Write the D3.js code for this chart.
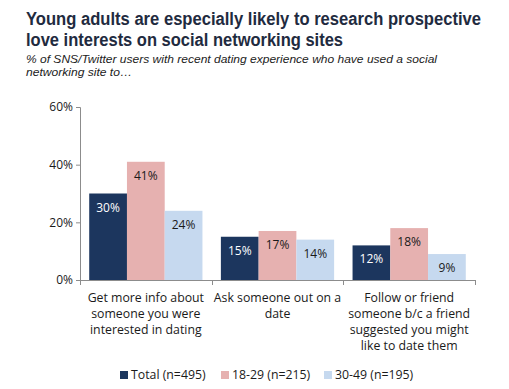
<!DOCTYPE html>
<html><head><meta charset="utf-8">
<script src="https://cdn.jsdelivr.net/npm/d3@7"></script>
<style>body{margin:0;background:#fff}svg{display:block}</style>
</head><body>
<svg id="c" width="509" height="389"></svg>
<script>
const categories = [
  ["Get more info about","someone you were","interested in dating"],
  ["Ask someone out on a","date"],
  ["Follow or friend","someone b/c a friend","suggested you might","like to date them"]
];
const seriesNames = ["Total (n=495)","18-29 (n=215)","30-49 (n=195)"];
const totalVals = [30,15,12];
const young = [41,17,18];
const middle = [24,14,9];
const yTicks = [0,20,40,60];
const colors = ["#1c365e","#e6b1b0","#c6d9ef"];
const labelColors = ["#ffffff","#1a1a1a","#1a1a1a"];

const svg = d3.select("#c");
const font = "'Open Sans', 'Noto Sans', sans-serif";
const series = [totalVals, young, middle];

// title
const title = svg.append("g").attr("fill","#1f2b40").attr("font-family","'Liberation Sans', Arial, sans-serif").attr("font-weight","bold").attr("font-size",17.5);
title.append("text").attr("x",26).attr("y",25).attr("textLength",455).attr("lengthAdjust","spacingAndGlyphs").text("Young adults are especially likely to research prospective");
title.append("text").attr("x",26).attr("y",46).attr("textLength",317).attr("lengthAdjust","spacingAndGlyphs").text("love interests on social networking sites");
const sub = svg.append("g").attr("fill","#222").attr("font-family","'Liberation Sans', Arial, sans-serif").attr("font-style","italic").attr("font-size",11);
sub.append("text").attr("x",26).attr("y",63).attr("textLength",411).attr("lengthAdjust","spacingAndGlyphs").text("% of SNS/Twitter users with recent dating experience who have used a social");
sub.append("text").attr("x",26).attr("y",75.5).attr("textLength",106).attr("lengthAdjust","spacingAndGlyphs").text("networking site to…");

const x0 = d3.scaleBand().domain(d3.range(categories.length)).range([80,475]).paddingInner(0.14).paddingOuter(0.07);
const x1 = d3.scaleBand().domain(d3.range(3)).range([0,x0.bandwidth()]);
const y = d3.scaleLinear().domain([0,60]).range([280,107]);

// y axis
const yAxis = d3.axisLeft(y).tickValues(yTicks).tickSize(4).tickFormat(d=>d+"%");
const ya = svg.append("g").attr("transform","translate(80,0)").call(yAxis);
ya.select(".domain").attr("stroke","#8c8c8c").attr("d","M-4,107.5H0.5V280.5");
ya.selectAll(".tick line").attr("stroke","#8c8c8c");
ya.selectAll(".tick text").attr("font-family",font).attr("font-size",12).attr("fill","#1a1a1a").attr("x",-7);

// x axis line
const step = 395/categories.length;
const xg = svg.append("g");
xg.append("line").attr("x1",80).attr("x2",475).attr("y1",280.5).attr("y2",280.5).attr("stroke","#8c8c8c");
d3.range(categories.length+1).forEach(i=>{
  const xx = Math.round(80+ i*step)+0.5;
  xg.append("line").attr("x1",xx).attr("x2",xx).attr("y1",280).attr("y2",285).attr("stroke","#8c8c8c");
});

// bars
series.forEach((vals,s)=>{
  const g = svg.append("g");
  vals.forEach((v,i)=>{
    const bx = x0(i)+x1(s);
    g.append("rect").attr("x",bx).attr("y",y(v)).attr("width",x1.bandwidth()).attr("height",280-y(v)).attr("fill",colors[s]);
    g.append("text").attr("x",bx+x1.bandwidth()/2).attr("y",y(v)+18).attr("text-anchor","middle")
      .attr("font-family",font).attr("font-size",12).attr("fill",labelColors[s]).text(v+"%");
  });
});

// category labels
categories.forEach((lines,i)=>{
  const cx = 80 + (i+0.5)*step;
  const t = svg.append("text").attr("text-anchor","middle").attr("font-family",font).attr("font-size",12.3).attr("fill","#1a1a1a");
  lines.forEach((l,j)=>t.append("tspan").attr("x",cx).attr("y",302+j*16).text(l));
});

// legend
const legX = [120,221,324];
seriesNames.forEach((n,s)=>{
  svg.append("rect").attr("x",legX[s]).attr("y",371).attr("width",8).attr("height",8).attr("fill",colors[s]);
  svg.append("text").attr("x",legX[s]+11).attr("y",379).attr("font-family",font).attr("font-size",12.3).attr("fill","#1a1a1a").text(n);
});
</script>
</body></html>
